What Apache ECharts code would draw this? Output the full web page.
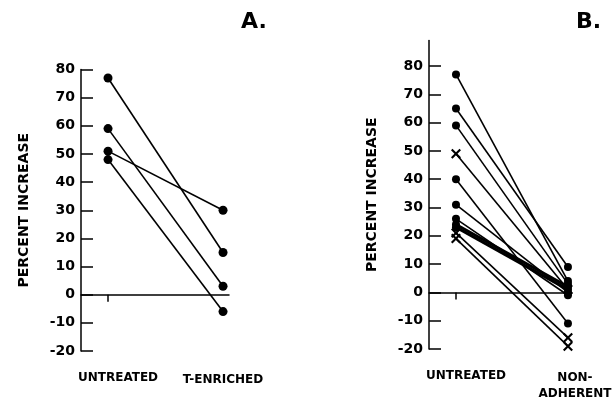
<!DOCTYPE html>
<html>
<head>
<meta charset="utf-8">
<script src="https://cdn.jsdelivr.net/npm/echarts@6/dist/echarts.min.js"></script>
<style>
html, body { margin: 0; padding: 0; background: #fff; }
#chart { width: 615px; height: 405px; }
</style>
</head>
<body>
<div id="chart"></div>
<script>
// categories on the x axis of each panel
const groupsA = ['UNTREATED', 'T-ENRICHED'];
const groupsB = ['UNTREATED', 'NON-\nADHERENT'];

// y tick labels (percent increase)
const yTicks = [-20, -10, 0, 10, 20, 30, 40, 50, 60, 70, 80];

// panel A: [untreated, T-enriched]
const pairsA = [[77, 15], [59, 3], [51, 30], [48, -6]];

// panel B: [untreated, non-adherent]
const pairsB = [[77, 4], [65, 9], [59, 3], [49, 1], [40, -11], [31, 0], [26, -1], [24, 2], [23, 1], [21, -16], [19, -19]];
const markersB = ['dot', 'dot', 'dot', 'x', 'dot', 'dot', 'dot', 'dot', 'dot', 'x', 'x'];
const heavyB = [false, false, false, false, false, false, false, true, true, false, false];

const FONT = 'DejaVu Sans';
const CROSS = 'path://M0,1.5L1.5,0L5,3.5L8.5,0L10,1.5L6.5,5L10,8.5L8.5,10L5,6.5L1.5,10L0,8.5L3.5,5Z';

// shift2: extra left padding for the second label (moves it right by half)
const makeX = (gridIndex, min, max, names, shift2) => ({
	type: 'value',
	gridIndex: gridIndex,
	min: min,
	max: max,
	splitLine: { show: false },
	axisLine: { onZero: true, lineStyle: { color: '#000', width: 1.5 } },
	axisTick: { customValues: [0], length: 7, lineStyle: { color: '#000', width: 1.5 } },
	axisLabel: {
		customValues: [0, 1],
		margin: 21,
		formatter: (v) => v === 0 ? `{u|${names[0]}}` : names[1].split('\n').map(s => `{n|${s}}`).join('\n'),
		rich: {
			u: { fontFamily: FONT, fontWeight: 'bold', fontSize: 12, color: '#000', padding: [0, 0, 0, 20] },
			n: { fontFamily: FONT, fontWeight: 'bold', fontSize: 12, color: '#000', lineHeight: 16, padding: [0, 0, 0, shift2] },
		},
	},
});

const makeY = (gridIndex, max) => ({
	type: 'value',
	gridIndex: gridIndex,
	min: -20,
	max: max,
	interval: 10,
	name: 'PERCENT INCREASE',
	nameLocation: 'middle',
	nameRotate: 90,
	nameGap: 50,
	nameTextStyle: { fontFamily: FONT, fontWeight: 'bold', fontSize: 14, color: '#000' },
	splitLine: { show: false },
	axisLine: { show: true, onZero: false, lineStyle: { color: '#000', width: 1.5 } },
	axisTick: { show: true, customValues: yTicks, inside: true, length: 12, lineStyle: { color: '#000', width: 1.5 } },
	axisLabel: {
		customValues: yTicks,
		margin: 6,
		fontFamily: FONT,
		fontWeight: 'bold',
		fontSize: 14,
		color: '#000',
	},
});

const series = [];
for (const p of pairsA) {
	series.push({
		type: 'line',
		xAxisIndex: 0,
		yAxisIndex: 0,
		data: [[0, p[0]], [1, p[1]]],
		symbol: 'circle',
		symbolSize: 9,
		itemStyle: { color: '#000' },
		lineStyle: { color: '#000', width: 1.6 },
		silent: true,
	});
}
pairsB.forEach((p, i) => {
	const isX = markersB[i] === 'x';
	series.push({
		type: 'line',
		xAxisIndex: 1,
		yAxisIndex: 1,
		data: [[0, p[0]], [1, p[1]]],
		symbol: isX ? CROSS : 'circle',
		symbolSize: isX ? 10 : 8,
		itemStyle: { color: '#000' },
		lineStyle: { color: '#000', width: heavyB[i] ? 3 : 1.6 },
		silent: true,
	});
});

const chart = echarts.init(document.getElementById('chart'));
chart.setOption({
	animation: false,
	backgroundColor: '#fff',
	title: [
		{ text: 'A.', left: 236, top: 6, textStyle: { fontFamily: FONT, fontWeight: 'bold', fontSize: 22, color: '#000' } },
		{ text: 'B.', left: 571, top: 6, textStyle: { fontFamily: FONT, fontWeight: 'bold', fontSize: 22, color: '#000' } },
	],
	grid: [
		{ left: 81, top: 69.5, width: 148, height: 281.5, containLabel: false, outerBoundsMode: 'none' },
		{ left: 429, top: 40.5, width: 143, height: 308.5, containLabel: false, outerBoundsMode: 'none' },
	],
	xAxis: [
		makeX(0, -0.235, 1.052, groupsA, 0),
		makeX(1, -0.241, 1.036, groupsB, 14),
	],
	yAxis: [
		makeY(0, 80),
		makeY(1, 89),
	],
	series: series,
});
</script>
</body>
</html>
